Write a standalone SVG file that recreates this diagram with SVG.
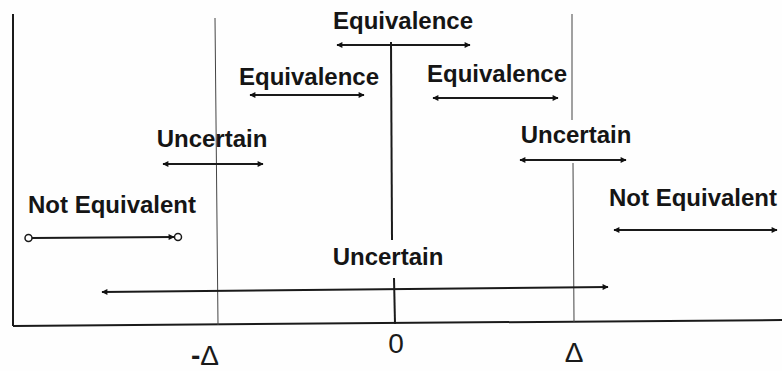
<svg xmlns="http://www.w3.org/2000/svg" width="782" height="371" viewBox="0 0 782 371">
<defs>
<marker id="ah" viewBox="0 0 10 10" refX="9" refY="5" markerWidth="8" markerHeight="6" markerUnits="userSpaceOnUse" orient="auto-start-reverse">
<path d="M0,0 L10,5 L0,10 z" fill="#111"/>
</marker>
<style>
.lbl{font-family:"Liberation Sans",Arial,sans-serif;font-weight:bold;font-size:24px;fill:#151515;text-anchor:middle}
.tick{font-family:"Liberation Sans",Arial,sans-serif;font-size:28px;fill:#1a1a1a;text-anchor:middle}
.arr{stroke:#1a1a1a;stroke-width:2;fill:none;marker-start:url(#ah);marker-end:url(#ah)}
.grid{stroke:#444;stroke-width:1;fill:none}
.axis{stroke:#1a1a1a;stroke-width:2;fill:none}
</style>
</defs>
<rect width="782" height="371" fill="#fefefe"/>
<g id="axes">
<line class="axis" x1="13" y1="14" x2="13" y2="326"/>
<line class="axis" x1="13" y1="326" x2="782" y2="320"/>
</g>
<g id="guides">
<line class="grid" x1="215" y1="18" x2="218" y2="325"/>
<line class="axis" x1="391" y1="42" x2="392" y2="240"/>
<line class="axis" x1="394" y1="278" x2="395" y2="324"/>
<line class="grid" x1="572" y1="14" x2="572" y2="120"/>
<line class="grid" x1="573" y1="163" x2="574" y2="322"/>
</g>
<g id="ticks">
<text class="tick" x="205" y="365"><tspan font-weight="bold">-</tspan>Δ</text>
<text class="tick" x="396" y="353">0</text>
<text class="tick" x="574" y="362">Δ</text>
</g>
<g id="eq-top"><text class="lbl" x="403" y="29">Equivalence</text></g>
<g id="eq-left"><text class="lbl" x="309" y="85">Equivalence</text></g>
<g id="eq-right"><text class="lbl" x="497" y="82">Equivalence</text></g>
<g id="unc-left"><text class="lbl" x="212" y="147">Uncertain</text></g>
<g id="unc-right"><text class="lbl" x="576" y="143">Uncertain</text></g>
<g id="noteq-left"><text class="lbl" x="112" y="213">Not Equivalent</text></g>
<g id="noteq-right"><text class="lbl" x="693" y="206">Not Equivalent</text></g>
<g id="unc-bottom"><text class="lbl" x="388" y="265">Uncertain</text></g>
<g id="connectors">
<line class="arr" x1="337" y1="45" x2="470" y2="45"/>
<line class="arr" x1="250" y1="95" x2="364" y2="95"/>
<line class="arr" x1="433" y1="98" x2="558" y2="98"/>
<line class="arr" x1="163" y1="164" x2="263" y2="164"/>
<line class="arr" x1="520" y1="160" x2="626" y2="160"/>
<line class="arr" x1="614" y1="230" x2="777" y2="230"/>
<line class="arr" x1="102" y1="292" x2="608" y2="287"/>
<line stroke="#1a1a1a" stroke-width="2" x1="32" y1="238" x2="174" y2="237" marker-end="url(#ah)"/>
<circle cx="28.5" cy="238" r="3.5" fill="#fff" stroke="#1a1a1a" stroke-width="1.5"/>
<circle cx="178" cy="237" r="3.5" fill="#fff" stroke="#1a1a1a" stroke-width="1.5"/>
</g>
</svg>
